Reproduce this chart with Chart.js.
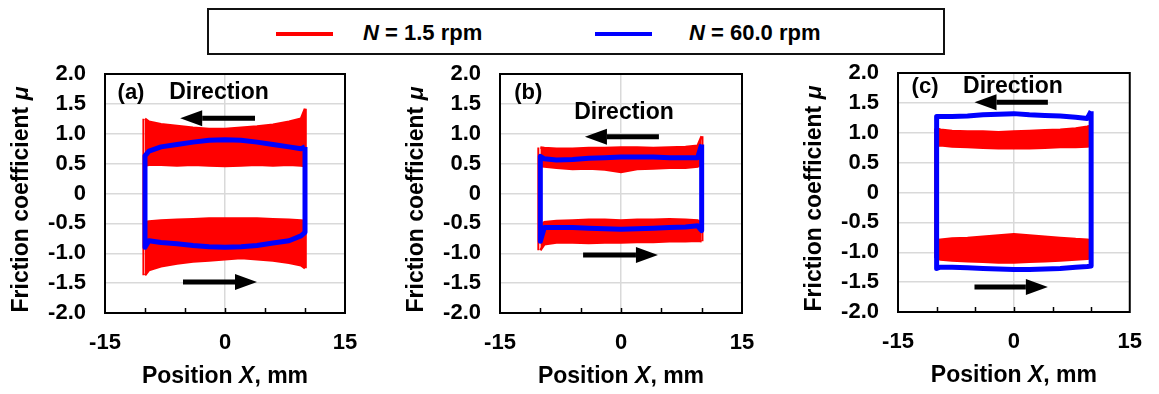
<!DOCTYPE html>
<html>
<head>
<meta charset="utf-8">
<script src="https://cdn.jsdelivr.net/npm/chart.js@4.4.1/dist/chart.umd.min.js"></script>
<style>
  body { margin: 0; background: #fff; width: 1159px; height: 394px; position: relative; overflow: hidden;
         font-family: "Liberation Sans", Arial, sans-serif; }
  canvas { position: absolute; top: 0; }
  #legend { position: absolute; left: 207px; top: 8px; width: 738px; height: 47px; box-sizing: border-box;
            border: 2px solid #111; font-weight: bold; font-size: 22px; color: #000; }
  #legend .sw { position: absolute; top: 22px; height: 4px; width: 57px; }
  #legend .tx { position: absolute; top: 10px; line-height: 26px; white-space: nowrap; }
</style>
</head>
<body>
<div id="legend">
  <span class="sw" style="left:67px;background:#ff0000"></span>
  <span class="tx" style="left:154px"><i>N</i> = 1.5 rpm</span>
  <span class="sw" style="left:386px;background:#0000ff"></span>
  <span class="tx" style="left:480px"><i>N</i> = 60.0 rpm</span>
</div>
<canvas id="chartA" width="390" height="394" style="left:0px"></canvas>
<canvas id="chartB" width="392" height="394" style="left:395px"></canvas>
<canvas id="chartC" width="366" height="394" style="left:793px"></canvas>
<script>
// Axis ranges and labelled ticks
const xRange = [-15, 15];
const yRange = [-2, 2];
const xLabelled = [-15, 0, 15];

// Positions X (mm) where the traces were read
const positions = [-10, -9.5, -8, -6, -4, -2, 0, 2, 4, 6, 8, 9.5, 10];
// Where the thin red reversal strokes sit, left and right
const aRedEdgeX = [-10.2, 10.1];
const bRedEdgeX = [-10.25, 10.1];
const cRedEdgeX = [-10.2, 10.1];

// (a) N = 1.5 rpm band edges, N = 60.0 rpm loop
const aRedTopUpper = [1.25, 1.2, 1.16, 1.13, 1.1, 1.08, 1.08, 1.1, 1.12, 1.15, 1.2, 1.25, 1.42];
const aRedTopLower = [0.47, 0.48, 0.48, 0.47, 0.48, 0.47, 0.46, 0.47, 0.48, 0.47, 0.48, 0.47, 0.46];
const aRedBotUpper = [-0.48, -0.47, -0.45, -0.44, -0.43, -0.42, -0.42, -0.42, -0.42, -0.43, -0.44, -0.45, -0.46];
const aRedBotLower = [-1.37, -1.28, -1.22, -1.17, -1.14, -1.12, -1.1, -1.08, -1.1, -1.12, -1.16, -1.2, -1.25];
const aBlueTop = [0.63, 0.71, 0.78, 0.82, 0.86, 0.89, 0.9, 0.89, 0.86, 0.82, 0.78, 0.75, 0.78];
const aBlueBot = [-0.9, -0.79, -0.82, -0.84, -0.87, -0.89, -0.9, -0.89, -0.87, -0.83, -0.79, -0.71, -0.65];

// (b)
const bRedTopUpper = [0.77, 0.76, 0.75, 0.75, 0.76, 0.76, 0.77, 0.77, 0.76, 0.77, 0.78, 0.8, 0.96];
const bRedTopLower = [0.46, 0.45, 0.43, 0.41, 0.42, 0.4, 0.36, 0.41, 0.42, 0.43, 0.43, 0.45, 0.5];
const bRedBotUpper = [-0.55, -0.48, -0.46, -0.45, -0.44, -0.44, -0.45, -0.44, -0.44, -0.43, -0.44, -0.45, -0.5];
const bRedBotLower = [-0.95, -0.85, -0.82, -0.82, -0.83, -0.82, -0.82, -0.81, -0.81, -0.8, -0.8, -0.79, -0.8];
const bBlueTop = [0.62, 0.58, 0.56, 0.57, 0.59, 0.6, 0.61, 0.61, 0.61, 0.6, 0.6, 0.6, 0.82];
const bBlueBot = [-0.8, -0.57, -0.57, -0.57, -0.58, -0.59, -0.6, -0.59, -0.58, -0.57, -0.56, -0.54, -0.62];

// (c)
const cRedTopUpper = [1.07, 1.05, 1.03, 1.02, 1.02, 1.01, 1.02, 1.03, 1.04, 1.05, 1.07, 1.1, 1.12];
const cRedTopLower = [0.78, 0.79, 0.77, 0.76, 0.75, 0.74, 0.74, 0.74, 0.75, 0.76, 0.76, 0.77, 0.78];
const cRedBotUpper = [-0.8, -0.79, -0.77, -0.76, -0.74, -0.72, -0.7, -0.72, -0.74, -0.76, -0.78, -0.79, -0.8];
const cRedBotLower = [-1.1, -1.12, -1.14, -1.15, -1.16, -1.17, -1.17, -1.16, -1.15, -1.14, -1.12, -1.11, -1.1];
const cBlueTop = [1.27, 1.27, 1.27, 1.28, 1.3, 1.31, 1.32, 1.3, 1.29, 1.28, 1.26, 1.24, 1.36];
const cBlueBot = [-1.27, -1.25, -1.25, -1.26, -1.27, -1.28, -1.29, -1.29, -1.28, -1.27, -1.25, -1.24, -1.23];

const RED = '#ff0000';
const BLUE = '#0000ff';
const FONT = '"Liberation Sans", Arial, sans-serif';

function pts(ys) {
    return positions.map((x, i) => ({ x: x, y: ys[i] }));
}

// sliding left on top, right on the bottom
function loop(top, bot) {
    const upper = pts(top).reverse();
    const lower = pts(bot);
    return upper.concat(lower, [upper[0]]);
}

function redSet(data, fill, width) {
    return { data: data, borderColor: RED, backgroundColor: RED, borderWidth: width || 2.5,
             pointRadius: 0, fill: fill, order: 1, tension: 0 };
}

// Text with italic pieces, centred on 0,0 of the current transform
function richText(ctx, parts, size) {
    let w = 0;
    parts.forEach(p => {
        ctx.font = (p[1] ? 'italic ' : '') + 'bold ' + size + 'px ' + FONT;
        w += ctx.measureText(p[0]).width;
    });
    let x = -w / 2;
    parts.forEach(p => {
        ctx.font = (p[1] ? 'italic ' : '') + 'bold ' + size + 'px ' + FONT;
        ctx.fillText(p[0], x, 0);
        x += ctx.measureText(p[0]).width;
    });
}

function arrow(ctx, x0, x1, y) {
    const dir = Math.sign(x1 - x0);
    const head = 22;
    ctx.lineWidth = 5;
    ctx.beginPath();
    ctx.moveTo(x0, y);
    ctx.lineTo(x1 - dir * head, y);
    ctx.stroke();
    ctx.beginPath();
    ctx.moveTo(x1, y);
    ctx.lineTo(x1 - dir * head, y - 8);
    ctx.lineTo(x1 - dir * head, y + 8);
    ctx.closePath();
    ctx.fill();
}

const decor = {
    id: 'decor',
    afterDraw(chart, args, o) {
        const { ctx, chartArea: a, scales: { x, y } } = chart;
        ctx.save();
        ctx.strokeStyle = '#000';
        ctx.fillStyle = '#000';

        // plot box
        ctx.lineWidth = 2;
        ctx.strokeRect(a.left, a.top, a.right - a.left, a.bottom - a.top);

        // minor tick marks inside the bottom edge
        ctx.lineWidth = 1.5;
        x.ticks.forEach(t => {
            if (t.value > xRange[0] && t.value < xRange[1]) {
                const px = Math.round(x.getPixelForValue(t.value)) + 0.5;
                ctx.beginPath();
                ctx.moveTo(px, a.bottom);
                ctx.lineTo(px, a.bottom - 5);
                ctx.stroke();
            }
        });

        // panel tag and direction
        ctx.textAlign = 'center';
        ctx.textBaseline = 'middle';
        ctx.font = 'bold 22px ' + FONT;
        ctx.fillText(o.tag, x.getPixelForValue(o.tagAt[0]), y.getPixelForValue(o.tagAt[1]));
        ctx.font = 'bold 23px ' + FONT;
        ctx.fillText('Direction', x.getPixelForValue(o.dirAt[0]), y.getPixelForValue(o.dirAt[1]));
        o.arrows.forEach(ar => {
            arrow(ctx, x.getPixelForValue(ar[0]), x.getPixelForValue(ar[1]), y.getPixelForValue(ar[2]));
        });

        // axis titles
        ctx.textAlign = 'left';
        ctx.save();
        ctx.translate((a.left + a.right) / 2, a.bottom + 64);
        richText(ctx, [['Position ', false], ['X', true], [', mm', false]], 23);
        ctx.restore();
        ctx.save();
        ctx.translate(a.left - 83, (a.top + a.bottom) / 2 + 6);
        ctx.rotate(-Math.PI / 2);
        richText(ctx, [['Friction coefficient ', false], ['\u03bc', true]], 23);
        ctx.restore();

        ctx.restore();
    }
};

function createPanel(id, redTU, redTL, redBU, redBL, blueTop, blueBot, edgeX, pad, note) {
    const canvas = document.getElementById(id);
    const H = canvas.height;
    return new Chart(canvas, {
        type: 'line',
        data: {
            datasets: [
                { data: loop(blueTop, blueBot), borderColor: BLUE, borderWidth: 5, pointRadius: 0,
                  fill: false, order: 0, tension: 0, borderJoinStyle: 'round' },
                redSet(pts(redTU), '+1'),
                redSet(pts(redTL), false),
                redSet(pts(redBU), '+1'),
                redSet(pts(redBL), false),
                redSet([{ x: edgeX[0], y: redTU[0] }, { x: edgeX[0], y: redBL[0] }], false, 2),
                redSet([{ x: edgeX[1], y: redTU[redTU.length - 1] },
                        { x: edgeX[1], y: redBL[redBL.length - 1] }], false, 2)
            ]
        },
        options: {
            responsive: false,
            animation: false,
            devicePixelRatio: 1,
            layout: { padding: { top: pad.top, right: pad.right, left: 0, bottom: 0 } },
            plugins: {
                legend: { display: false },
                tooltip: { enabled: false },
                decor: note
            },
            scales: {
                x: {
                    type: 'linear', min: xRange[0], max: xRange[1],
                    afterFit: s => { s.height = H - pad.bottom; },
                    border: { display: false },
                    grid: { drawTicks: false, lineWidth: 1.5,
                            color: c => (c.tick && c.tick.value === 0 ? '#d9d9d9' : 'rgba(0,0,0,0)') },
                    ticks: { stepSize: 5, autoSkip: false, maxRotation: 0, padding: 17, color: '#000',
                             font: { family: FONT, size: 22, weight: 'bold' },
                             callback: v => (xLabelled.includes(v) ? String(v) : '') }
                },
                y: {
                    min: yRange[0], max: yRange[1],
                    afterFit: s => { s.width = 105; },
                    border: { display: false },
                    grid: { drawTicks: false, lineWidth: 1.5, color: '#d9d9d9' },
                    ticks: { stepSize: 0.5, padding: 19, color: '#000',
                             font: { family: FONT, size: 22, weight: 'bold' },
                             callback: v => (v === 0 ? '0' : v.toFixed(1)) }
                }
            }
        },
        plugins: [decor]
    });
}

// Draw the three panels
document.addEventListener('DOMContentLoaded', function () {
    createPanel('chartA', aRedTopUpper, aRedTopLower, aRedBotUpper, aRedBotLower, aBlueTop, aBlueBot, aRedEdgeX,
        { top: 74, right: 45, bottom: 313 },
        { tag: '(a)', tagAt: [-11.75, 1.68], dirAt: [-0.75, 1.68],
          arrows: [[3.75, -5.6, 1.26], [-5.25, 4.0, -1.48]] });
    createPanel('chartB', bRedTopUpper, bRedTopLower, bRedBotUpper, bRedBotLower, bBlueTop, bBlueBot, bRedEdgeX,
        { top: 74, right: 45, bottom: 313 },
        { tag: '(b)', tagAt: [-11.5, 1.68], dirAt: [0.37, 1.35],
          arrows: [[4.7, -4.47, 0.95], [-4.7, 4.58, -1.03]] });
    createPanel('chartC', cRedTopUpper, cRedTopLower, cRedBotUpper, cRedBotLower, cBlueTop, cBlueBot, cRedEdgeX,
        { top: 73, right: 21, bottom: 312 },
        { tag: '(c)', tagAt: [-11.5, 1.77], dirAt: [-0.125, 1.77],
          arrows: [[4.4, -5.1, 1.51], [-5.1, 4.4, -1.58]] });
});
</script>
</body>
</html>
